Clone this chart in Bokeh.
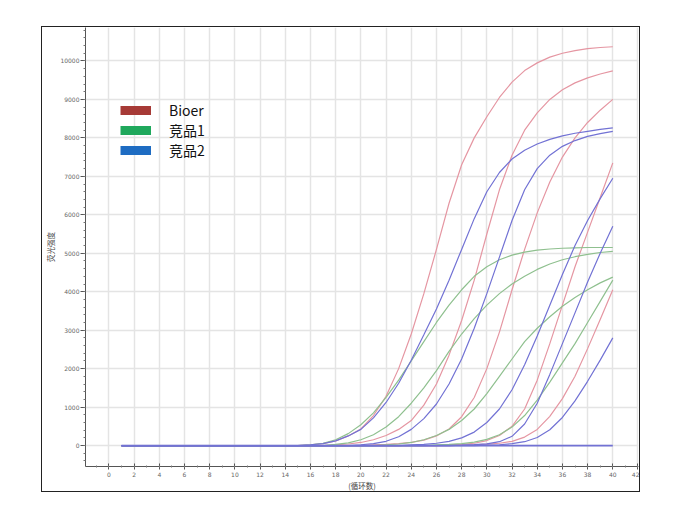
import numpy as np
from bokeh.plotting import figure
from bokeh.models import SingleIntervalTicker, Legend, LegendItem, Range1d
from bokeh.embed import file_html
from bokeh.resources import INLINE

cycles = list(range(1, 41))

# Bioer (red) curves
bioer_1 = [0]*15 + [20, 50, 120, 250, 430, 780, 1280, 2000, 2900, 3950, 5100, 6300, 7300, 8000, 8550,
                    9050, 9450, 9750, 9950, 10100, 10200, 10270, 10320, 10350, 10370]
bioer_2 = [0]*17 + [20, 40, 80, 150, 260, 420, 650, 1050, 1600, 2350, 3250, 4300, 5500, 6650, 7550,
                    8200, 8650, 9000, 9250, 9430, 9560, 9660, 9740]
bioer_3 = [0]*20 + [15, 30, 50, 80, 140, 250, 430, 750, 1250, 2000, 2950, 4050, 5100, 6050, 6850,
                    7500, 8000, 8400, 8720, 9000]
bioer_4 = [0]*26 + [15, 30, 60, 130, 260, 500, 950, 1700, 2650, 3650, 4650, 5550, 6450, 7350]
bioer_5 = [0]*27 + [10, 20, 35, 60, 110, 220, 420, 760, 1220, 1800, 2520, 3280, 4050]

# 竞品1 (green) curves
green_1 = [0]*15 + [20, 60, 150, 310, 540, 850, 1250, 1700, 2200, 2700, 3200, 3650, 4050, 4400, 4650,
                    4830, 4950, 5030, 5080, 5110, 5130, 5140, 5150, 5150, 5150]
green_2 = [0]*17 + [30, 70, 150, 280, 480, 750, 1100, 1500, 1950, 2450, 2900, 3300, 3650, 3950, 4200,
                    4400, 4580, 4720, 4830, 4910, 4970, 5020, 5050]
green_3 = [0]*21 + [20, 40, 80, 150, 260, 420, 650, 950, 1350, 1800, 2250, 2700, 3050, 3350, 3620,
                    3850, 4050, 4230, 4380]
green_4 = [0]*25 + [15, 30, 50, 90, 160, 280, 480, 780, 1180, 1650, 2150, 2650, 3200, 3750, 4300]

# 竞品2 (blue) curves
blue_1 = [0]*15 + [20, 50, 120, 250, 420, 720, 1120, 1620, 2220, 2880, 3550, 4300, 5100, 5900, 6600,
                   7100, 7450, 7680, 7840, 7960, 8050, 8120, 8170, 8220, 8260]
blue_2 = [0]*19 + [20, 50, 110, 230, 420, 700, 1080, 1600, 2250, 3050, 3950, 4900, 5850, 6650, 7200,
                   7550, 7780, 7930, 8040, 8110, 8170]
blue_3 = [0]*23 + [15, 30, 60, 110, 200, 350, 600, 950, 1450, 2100, 2850, 3650, 4450, 5200, 5850,
                   6420, 6950]
blue_4 = [0]*27 + [10, 25, 45, 100, 240, 560, 1100, 1850, 2650, 3450, 4250, 5000, 5700]
blue_5 = [0]*29 + [10, 20, 50, 100, 210, 410, 730, 1160, 1670, 2220, 2800]
blue_6 = [0]*40

series_names = ["Bioer", "竞品1", "竞品2"]
legend_colors = ["#A63A36", "#1FA85C", "#1E6CC2"]
curve_colors = ["#E596A2", "#8FC08F", "#7272D4"]
groups = [
    [bioer_1, bioer_2, bioer_3, bioer_4, bioer_5],
    [green_1, green_2, green_3, green_4],
    [blue_1, blue_2, blue_3, blue_4, blue_5, blue_6],
]

CJK = "Noto Sans CJK SC"

p = figure(width=599, height=466, output_backend="svg", toolbar_location=None,
           x_range=Range1d(-1.86, 42.04), y_range=Range1d(-545, 10870),
           min_border_left=42, min_border_right=3, min_border_top=0, min_border_bottom=23)
p.margin = (26, 0, 0, 41)
p.styles = {"border": "1.5px solid #222"}
p.outline_line_color = None
p.background_fill_color = "white"

p.xaxis.ticker = SingleIntervalTicker(interval=2, num_minor_ticks=2)
p.yaxis.ticker = SingleIntervalTicker(interval=1000, num_minor_ticks=5)
for ax in (p.xaxis, p.yaxis):
    ax.axis_line_color = "#555555"
    ax.major_tick_line_color = "#555555"
    ax.minor_tick_line_color = "#777777"
    ax.major_label_text_color = "#666666"
    ax.major_label_text_font = "DejaVu Sans"
    ax.major_label_text_font_size = "6px"
    ax.axis_label_text_font = CJK
    ax.axis_label_text_font_size = "7.5px"
    ax.axis_label_text_font_style = "normal"
    ax.axis_label_text_color = "#444444"
p.xaxis.major_tick_in = 3
p.xaxis.major_tick_out = 3
p.xaxis.minor_tick_in = 1
p.xaxis.minor_tick_out = 1
p.xaxis.major_label_standoff = 2
p.xaxis.axis_label = "(循环数)"
p.xaxis.axis_label_standoff = 0
p.yaxis.major_tick_in = 0
p.yaxis.major_tick_out = 5
p.yaxis.minor_tick_in = 0
p.yaxis.minor_tick_out = 2
p.yaxis.major_label_standoff = 1
p.yaxis.axis_label = "荧光强度"
p.yaxis.axis_label_standoff = 1

p.xgrid.grid_line_color = "#E4E4E4"
p.xgrid.grid_line_width = 1.5
p.ygrid.grid_line_color = "#E4E4E4"
p.ygrid.grid_line_width = 1.5

for g, curves in enumerate(groups):
    for vals in curves:
        lw = 1.8 if max(vals) == 0 else 1.2
        p.line(cycles, vals, line_color=curve_colors[g], line_width=lw)

items = []
for name, col in zip(series_names, legend_colors):
    r = p.line(np.array([np.nan]), np.array([np.nan]), line_color=col, line_width=9, line_cap="butt")
    items.append(LegendItem(label=name, renderers=[r]))

legend = Legend(items=items, location=(35, 306), padding=0, margin=0, spacing=0,
                glyph_width=31, glyph_height=20, label_height=20, label_standoff=18,
                label_text_font=CJK, label_text_font_size="14px", label_text_color="#111111",
                border_line_color=None, background_fill_alpha=0)
p.add_layout(legend)

open("out.html", "w").write(file_html(p, INLINE))
